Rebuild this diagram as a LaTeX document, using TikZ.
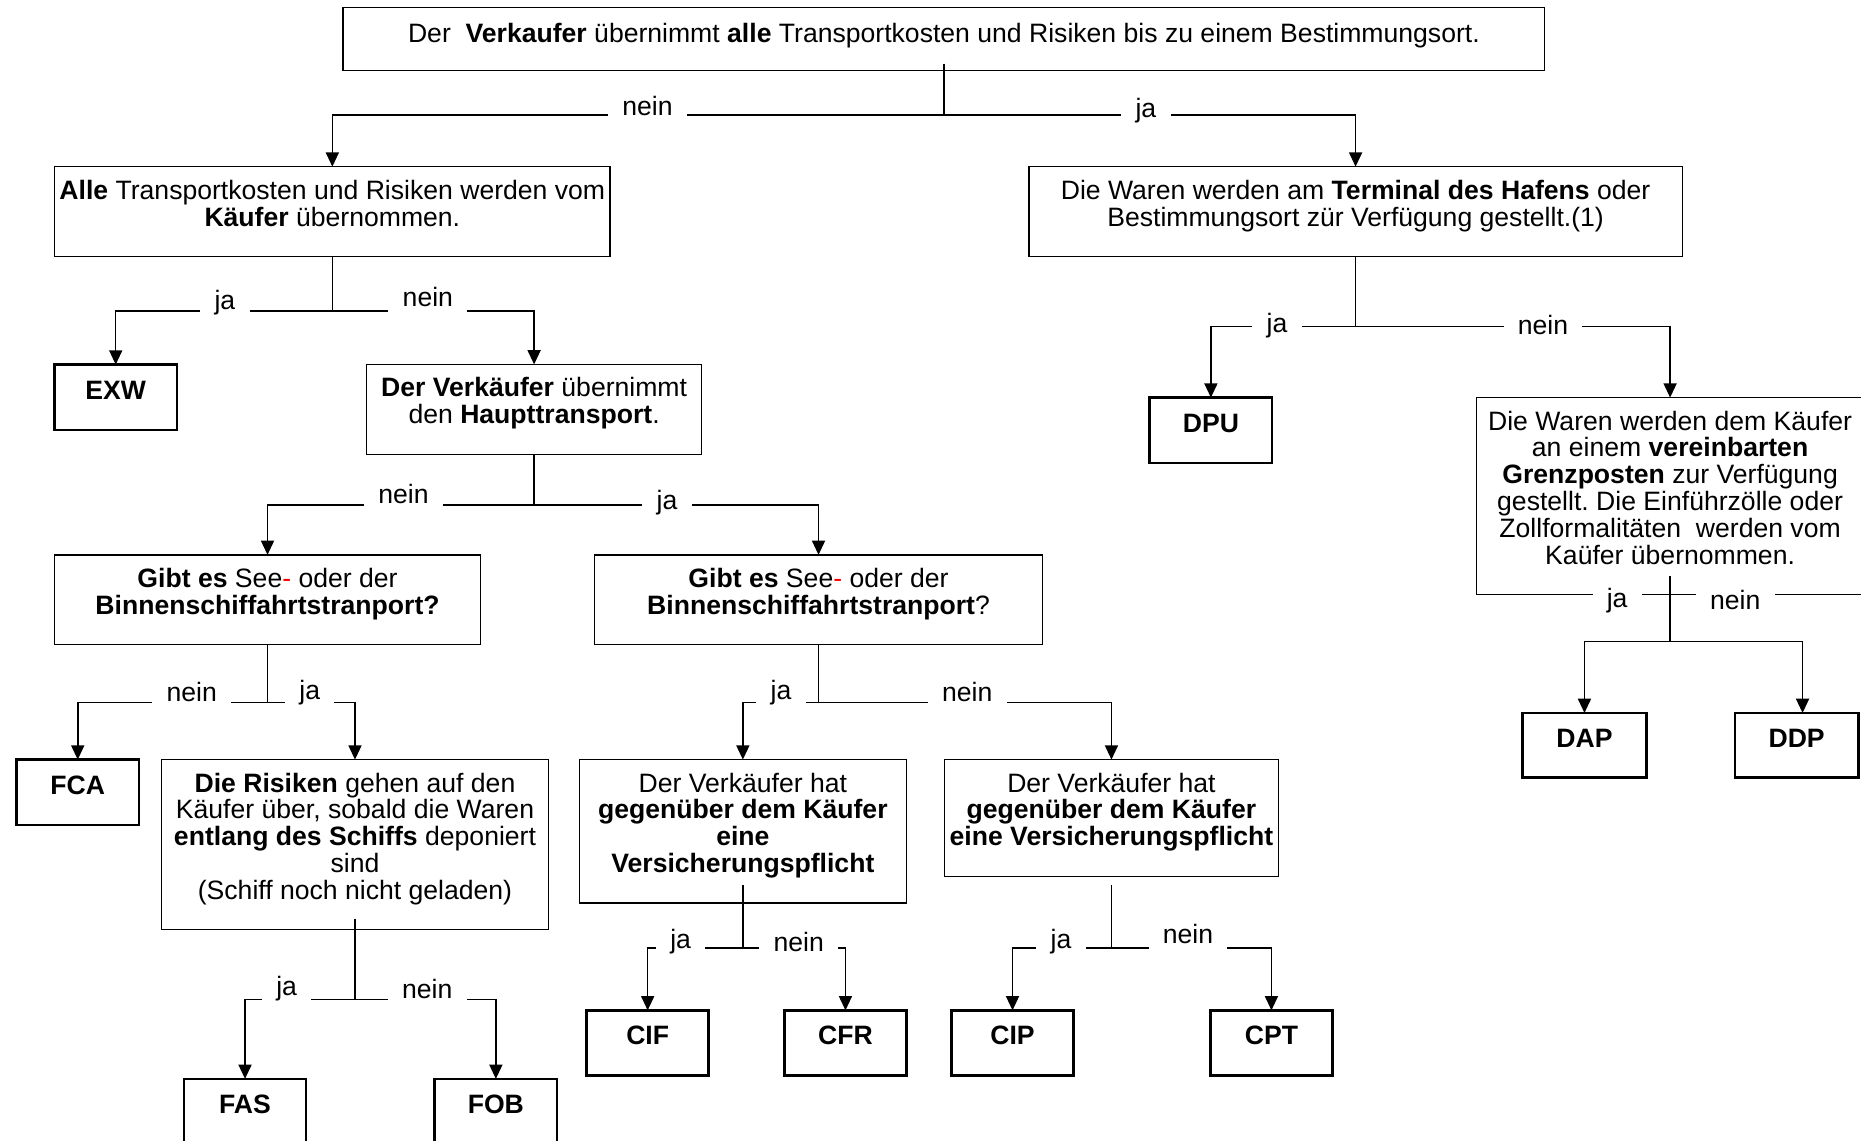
\documentclass[tikz,border=0pt]{standalone}
\usepackage{fontspec}
\setmainfont{Liberation Sans}
\usetikzlibrary{arrows.meta}
\frenchspacing
\newcommand\boxfont{\fontsize{22.4}{22.6}\selectfont}
\newcommand\topstrut{\rule{0pt}{18pt}}
\tikzset{
  box/.style={draw, rectangle, line width=1.1pt, inner sep=0pt, outer sep=0pt},
  resbox/.style={box, line width=2.2pt},
  txt/.style={align=center, inner sep=0pt, font=\boxfont, anchor=north,
              execute at begin node=\topstrut},
  lbl/.style={fill=white, inner xsep=12pt, inner ysep=0pt, text height=17pt,
              text depth=7pt, font=\boxfont, anchor=base},
  conn/.style={line width=1.3pt},
  arr/.style={conn, -{Triangle[length=12pt,width=11pt]}},
}
\begin{document}
\begin{tikzpicture}[x=1pt,y=-1pt]
\clip (0,0) rectangle (1568,961);
\fill[white] (0,0) rectangle (1568,961);

% ---- decision boxes ----
\node[box, minimum width=1012.5pt, minimum height=53.3pt] (top) at (795.3,32.9) {};
\node[box, minimum width=468pt,  minimum height=75.9pt] (A) at (280,178.35) {};
\node[box, minimum width=550.3pt, minimum height=75.9pt] (B) at (1142.15,178.35) {};
\node[box, minimum width=282.4pt, minimum height=76pt]  (C) at (450,345) {};
\node[box, minimum width=326.7pt, minimum height=166pt] (I) at (1407.15,418) {};
\node[box, minimum width=358.8pt, minimum height=75.7pt] (D) at (225.4,505.35) {};
\node[box, minimum width=377.9pt, minimum height=75.7pt] (E) at (689.65,505.35) {};
\node[box, minimum width=326.2pt, minimum height=143pt] (F) at (299.1,711.5) {};
\node[box, minimum width=275.4pt, minimum height=120.7pt] (G) at (625.9,700.35) {};
\node[box, minimum width=281.7pt, minimum height=98.4pt] (H) at (936.45,689.2) {};

% ---- result boxes ----
\node[resbox, minimum width=103pt, minimum height=55pt] (EXW) at (97.5,334.65) {};
\node[resbox, minimum width=103pt, minimum height=55pt] (DPU) at (1020.25,362.5) {};
\node[resbox, minimum width=103pt, minimum height=55pt] (FCA) at (65.5,667.5) {};
\node[resbox, minimum width=103pt, minimum height=55pt] (CIF) at (545.7,878.75) {};
\node[resbox, minimum width=103pt, minimum height=55pt] (CFR) at (712.35,878.75) {};
\node[resbox, minimum width=103pt, minimum height=55pt] (CIP) at (853.1,878.75) {};
\node[resbox, minimum width=103pt, minimum height=55pt] (CPT) at (1071.25,878.75) {};
\node[resbox, minimum width=103pt, minimum height=55pt] (FAS) at (206.45,936.5) {};
\node[resbox, minimum width=103pt, minimum height=55pt] (FOB) at (417.8,936.5) {};
\node[resbox, minimum width=104pt, minimum height=54.6pt] (DAP) at (1335,628) {};
\node[resbox, minimum width=104pt, minimum height=54.6pt] (DDP) at (1513.75,628) {};

% ---- box texts (first baseline about 29pt below the box top) ----
\node[txt] (topT) at ([yshift=-11pt]top.north) {Der\ \ \textbf{Verkaufer} übernimmt \textbf{alle} Transportkosten und Risiken bis zu einem Bestimmungsort.};
\node[txt] (AT) at ([yshift=-11pt]A.north) {\textbf{Alle} Transportkosten und Risiken werden vom\\ \textbf{Käufer} übernommen.};
\node[txt] (BT) at ([yshift=-11pt]B.north) {Die Waren werden am \textbf{Terminal des Hafens} oder\\ Bestimmungsort zür Verfügung gestellt.(1)};
\node[txt] (CT) at ([yshift=-11pt]C.north) {\textbf{Der Verkäufer} übernimmt\\ den \textbf{Haupttransport}.};
\node[txt] (IT) at ([yshift=-11pt]I.north) {Die Waren werden dem Käufer\\ an einem \textbf{vereinbarten}\\ \textbf{Grenzposten} zur Verfügung\\ gestellt. Die Einführzölle oder\\ Zollformalitäten\ \ werden vom\\ Kaüfer übernommen.};
\node[txt] (DT) at ([yshift=-11pt]D.north) {\textbf{Gibt es} See\textcolor{red}{-} oder der\\ \textbf{Binnenschiffahrtstranport?}};
\node[txt] (ET) at ([yshift=-11pt]E.north) {\textbf{Gibt es} See\textcolor{red}{-} oder der\\ \textbf{Binnenschiffahrtstranport}?};
\node[txt] (FT) at ([yshift=-11pt]F.north) {\textbf{Die Risiken} gehen auf den\\ Käufer über, sobald die Waren\\ \textbf{entlang des Schiffs} deponiert\\ sind\\ (Schiff noch nicht geladen)};
\node[txt] (GT) at ([yshift=-11pt]G.north) {Der Verkäufer hat\\ \textbf{gegenüber dem Käufer}\\ \textbf{eine}\\ \textbf{Versicherungspflicht}};
\node[txt] (HT) at ([yshift=-11pt]H.north) {Der Verkäufer hat\\ \textbf{gegenüber dem Käufer}\\ \textbf{eine Versicherungspflicht}};
\foreach \n in {EXW,DPU,FCA,CIF,CFR,CIP,CPT,FAS,FOB,DAP,DDP}
  \node[txt] (\n T) at ([yshift=-11pt]\n.north) {\textbf{\n}};

% ---- junctions ----
\coordinate (jtop) at (795.3,97);
\coordinate (jA) at (280,262);
\coordinate (jB) at (1142.15,275.2);
\coordinate (jC) at (450,425.5);
\coordinate (jD) at (225.4,591.8);
\coordinate (jE) at (689.65,591.8);
\coordinate (jF) at (299.1,842);
\coordinate (jG) at (625.9,798.6);
\coordinate (jH) at (936.45,798.6);
\coordinate (jI) at (1407.15,540.6);

% ---- connectors ----
\draw[conn] ([yshift=6pt]top.south) -- (jtop);
\draw[arr] (jtop) -| (A.north);
\draw[arr] (jtop) -| (B.north);

\draw[conn] (A.south) -- (jA);
\draw[arr] (jA) -| (EXW.north);
\draw[arr] (jA) -| (C.north);

\draw[conn] (B.south) -- (jB);
\draw[arr] (jB) -| (DPU.north);
\draw[arr] (jB) -| (I.north);

\draw[conn] (C.south) -- (jC);
\draw[arr] (jC) -| (D.north);
\draw[arr] (jC) -| (E.north);

\draw[conn] (D.south) -- (jD);
\draw[arr] (jD) -| (FCA.north);
\draw[arr] (jD) -| (F.north);

\draw[conn] (E.south) -- (jE);
\draw[arr] (jE) -| (G.north);
\draw[arr] (jE) -| (H.north);

\draw[conn] ([yshift=9pt]F.south) -- (jF);
\draw[arr] (jF) -| (FAS.north);
\draw[arr] (jF) -| (FOB.north);

\draw[conn] ([yshift=15pt]G.south) -- (jG);
\draw[arr] (jG) -| (CIF.north);
\draw[arr] (jG) -| (CFR.north);

\draw[conn] ([yshift=-7pt]H.south) -- (jH);
\draw[arr] (jH) -| (CIP.north);
\draw[arr] (jH) -| (CPT.north);

\draw[conn] ([yshift=16pt]I.south) -- (jI);
\draw[arr] (jI) -| (DAP.north);
\draw[arr] (jI) -| ([xshift=5pt]DDP.north);

% ---- branch labels ----
\node[lbl] (l1) at (545.5,97) {nein};
\node[lbl] (l2) at (965.5,99) {ja};
\node[lbl] (l3) at (189.5,261) {ja};
\node[lbl] (l4) at (360.5,258) {nein};
\node[lbl] (l5) at (1076,280) {ja};
\node[lbl] (l6) at (1300,282) {nein};
\node[lbl] (l7) at (340,424.6) {nein};
\node[lbl] (l8) at (562,429) {ja};
\node[lbl] (l9) at (161.5,591) {nein};
\node[lbl] (l10) at (261,589) {ja};
\node[lbl] (l11) at (658,589) {ja};
\node[lbl] (l12) at (815,591) {nein};
\node[lbl] (l13) at (241.5,838.5) {ja};
\node[lbl] (l14) at (360,841) {nein};
\node[lbl] (l15) at (573.5,799.4) {ja};
\node[lbl] (l16) at (673,802) {nein};
\node[lbl] (l17) at (894,799.4) {ja};
\node[lbl] (l18) at (1001,795) {nein};
\node[lbl] (l19) at (1362.5,512) {ja};
\node[lbl] (l20) at (1462,513.5) {nein};
\end{tikzpicture}
\end{document}
